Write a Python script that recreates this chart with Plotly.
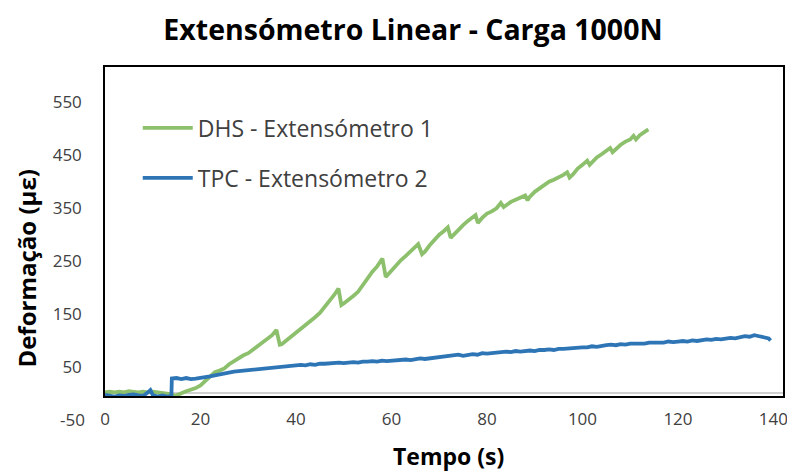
import plotly.graph_objects as go

# ---- data ----
dhs_t = [0, 1, 2, 3, 4, 5, 6, 7, 8, 9, 10, 11, 12, 13, 14, 14.7, 15.5, 16, 17, 18, 19, 20,
         21, 22, 23, 24, 25, 26, 27, 28, 29, 30, 31, 32, 33, 34, 35, 35.9, 36.6, 37, 38, 39,
         40, 41, 42, 43, 44, 45, 46, 47, 48, 48.9, 49.5, 50, 51, 52, 53, 54, 55, 56, 57,
         58.1, 58.8, 59, 60, 61, 62, 63, 64, 65, 65.6, 66.4, 67, 68, 69, 70, 71, 71.8, 72.4,
         73, 74, 75, 76, 77, 77.6, 78.1, 79, 80, 81, 82, 82.9, 83.5, 84, 85, 86, 87, 88,
         88.5, 89, 90, 91, 92, 93, 94, 95, 96, 96.8, 97.3, 98, 99, 100, 101, 101.5, 102,
         103, 104, 105, 105.8, 106.3, 107, 108, 109, 110, 110.7, 111.2, 112, 113, 113.8]
dhs_v = [2, 3, 2, 3, 2, 4, 3, 2, 3, 2, 3, 2, 1, 0, -2, -5, -3, 0, 4, 7, 10, 15,
         24, 32, 40, 43, 47, 55, 61, 66, 72, 76, 83, 88, 95, 103, 110, 120, 92, 93, 100, 107,
         115, 122, 128, 136, 144, 152, 163, 175, 186, 198, 167, 170, 176, 184, 192, 205, 218, 230, 240,
         255, 220, 222, 232, 243, 252, 260, 268, 277, 282, 263, 268, 280, 290, 300, 307, 314, 294,
         300, 310, 318, 326, 334, 337, 322, 332, 340, 344, 350, 360, 352, 356, 362, 366, 370, 374,
         365, 372, 381, 388, 394, 400, 404, 408, 413, 418, 408, 414, 425, 432, 440, 432, 437,
         446, 452, 458, 464, 456, 462, 470, 476, 480, 487, 480, 488, 494, 499]

tpc_t = [0, 1, 2, 3, 4, 5, 6, 7, 8, 9, 9.5, 10, 11, 12, 13, 13.9, 14.0, 15, 16, 17, 18, 19,
         20, 21, 22, 23, 24, 25, 26, 27, 28, 29, 30, 31, 32, 33, 34, 35, 36, 37, 38, 39,
         40, 41, 42, 43, 44, 45, 46, 47, 48, 49, 50, 51, 52, 53, 54, 55, 56, 57, 58, 59,
         60, 61, 62, 63, 64, 65, 66, 67, 68, 69, 70, 71, 72, 73, 74, 75, 76, 77, 78, 79,
         80, 81, 82, 83, 84, 85, 86, 87, 88, 89, 90, 91, 92, 93, 94, 95, 96, 97, 98, 99,
         100, 101, 102, 103, 104, 105, 106, 107, 108, 109, 110, 111, 112, 113, 114, 115, 116, 117, 118, 119,
         120, 121, 122, 123, 124, 125, 126, 127, 128, 129, 130, 131, 132, 133, 134, 135, 136, 137, 138, 139, 139.4]
tpc_v = [-3, -5, -6, -4, -5, -3, -2, -4, -5, 2, 6, -3, -6, -4, -6, -5, 28, 29, 27, 29, 27, 28,
         29, 30, 32, 34, 36, 37, 39, 41, 42, 43, 44, 45, 46, 46, 47, 48, 50, 50, 51, 52,
         53, 54, 53, 55, 54, 56, 56, 57, 57, 58, 57, 58, 59, 58, 60, 60, 61, 60, 62, 61,
         62, 63, 63, 64, 63, 65, 66, 65, 66, 67, 68, 69, 70, 72, 73, 71, 72, 74, 73, 76,
         75, 76, 77, 77, 79, 78, 80, 79, 80, 81, 80, 82, 82, 83, 82, 84, 84, 85, 85, 86,
         87, 87, 89, 88, 90, 91, 92, 91, 93, 92, 94, 94, 95, 94, 96, 96, 97, 96, 98, 97,
         98, 99, 98, 100, 99, 101, 102, 101, 103, 102, 104, 105, 104, 106, 108, 107, 110, 108, 106, 104, 100]

series_names = ["DHS - Extensómetro 1", "TPC - Extensómetro 2"]
y_tick_vals = [50, 150, 250, 350, 450, 550]
x_tick_vals = [0, 20, 40, 60, 80, 100, 120, 140]
extra_y_label = -50

X_RANGE = [0, 142]
Y_RANGE = [-5, 617]

FONT = "Open Sans"
GREEN = "#8dc06c"
BLUE = "#2e75b6"
TXT = "#404040"

# page offset (body margin) compensation
OFF = 8
W, H = 795 - OFF, 473 - OFF
PL, PR, PT, PB = 105 - OFF, 788 - OFF, 67 - OFF, 396 - OFF
PW, PH = PR - PL, PB - PT

fig = go.Figure()
fig.add_trace(go.Scatter(x=dhs_t, y=dhs_v, mode="lines", name=series_names[0],
                         line=dict(color=GREEN, width=3.8), legend="legend"))
fig.add_trace(go.Scatter(x=tpc_t, y=tpc_v, mode="lines", name=series_names[1],
                         line=dict(color=BLUE, width=3.8), legend="legend2"))

# -50 label sits below the plot box in the reference
frac = (extra_y_label - Y_RANGE[0]) / (Y_RANGE[1] - Y_RANGE[0])
fig.add_annotation(x=0, xref="paper", y=frac, yref="paper", text=str(extra_y_label),
                   showarrow=False, xanchor="right", yanchor="middle", xshift=-18,
                   font=dict(family=FONT, size=17, color=TXT))

# axis titles
fig.add_annotation(x=(451 - 105) / PW, xref="paper", y=-(456 - 396) / PH, yref="paper",
                   text="<b>Tempo (s)</b>", showarrow=False, xanchor="center", yanchor="middle",
                   font=dict(family=FONT, size=23, color="black"))
fig.add_annotation(x=(25 - 105) / PW, xref="paper", y=(396 - 269) / PH, yref="paper",
                   text="<b>Deformação (µε)</b>", showarrow=False, textangle=-90,
                   xanchor="center", yanchor="middle",
                   font=dict(family=FONT, size=24, color="black"))

legend_common = dict(bgcolor="rgba(0,0,0,0)", font=dict(family=FONT, size=23, color=TXT),
                     xanchor="left", yanchor="middle", itemwidth=50)

fig.update_layout(
    width=W, height=H, showlegend=True,
    margin=dict(l=PL, r=W - PR, t=PT, b=H - PB),
    paper_bgcolor="white", plot_bgcolor="white",
    title=dict(text="<b>Extensómetro Linear - Carga 1000N</b>",
               x=(413 - OFF) / W, xanchor="center", y=1 - (30 - OFF) / H, yanchor="middle",
               font=dict(family=FONT, size=28.5, color="black")),
    legend=dict(x=(138 - 105) / PW, y=(396 - 128) / PH, **legend_common),
    legend2=dict(x=(138 - 105) / PW, y=(396 - 178) / PH, **legend_common),
    xaxis=dict(range=X_RANGE, tickvals=x_tick_vals, showgrid=False, zeroline=False,
               showline=True, linecolor="black", linewidth=1.5, mirror=True,
               ticks="", ticklabelstandoff=7,
               tickfont=dict(family=FONT, size=17, color=TXT)),
    yaxis=dict(range=Y_RANGE, tickvals=y_tick_vals, showgrid=False,
               zeroline=True, zerolinecolor="#d0d0d0", zerolinewidth=1.5,
               showline=True, linecolor="black", linewidth=1.5, mirror=True,
               ticks="", ticklabelstandoff=18,
               tickfont=dict(family=FONT, size=17, color=TXT)),
)

fig.write_html("out.html")
